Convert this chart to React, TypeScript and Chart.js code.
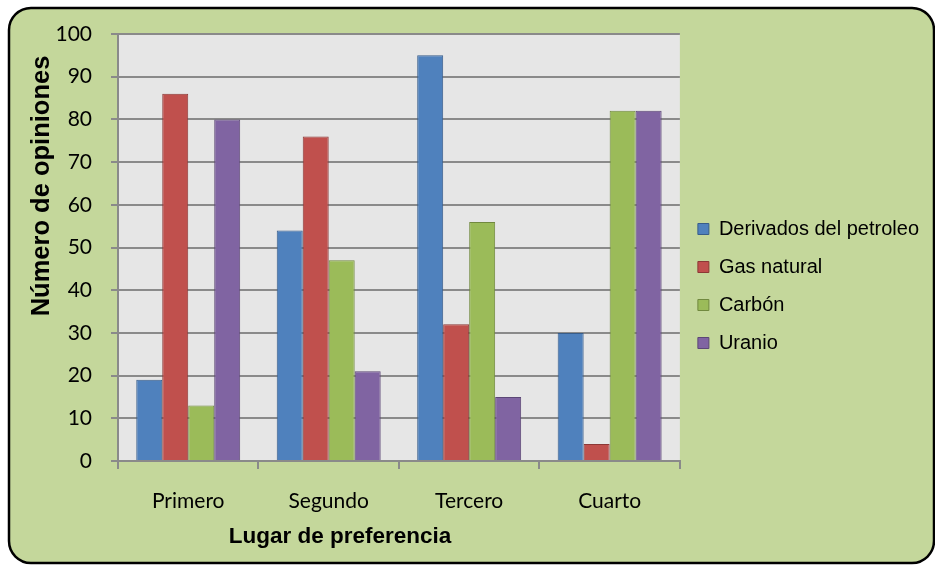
import React, { useEffect, useRef } from "react";
import { Chart, registerables } from "chart.js";

Chart.register(...registerables);

const categories = ["Primero", "Segundo", "Tercero", "Cuarto"];
const seriesNames = ["Derivados del petroleo", "Gas natural", "Carbón", "Uranio"];
const derivados = [19, 54, 95, 30];
const gasNatural = [86, 76, 32, 4];
const carbon = [13, 47, 56, 82];
const uranio = [80, 21, 15, 82];
const yTicks = [0, 10, 20, 30, 40, 50, 60, 70, 80, 90, 100];
const xTitle = "Lugar de preferencia";
const yTitle = "Número de opiniones";

const fills = ["#4F81BD", "#C0504D", "#9BBB59", "#8064A2"];
const borders = ["#385D8A", "#8C3836", "#71893F", "#5C4776"];

const framePlugin = {
  id: "frame",
  beforeDraw(chart: any) {
    const ctx = chart.ctx;
    const { left, top, right, bottom } = chart.chartArea;
    ctx.save();
    const x = 9, y = 8, w = 925, h = 555, r = 22;
    ctx.beginPath();
    ctx.moveTo(x + r, y);
    ctx.lineTo(x + w - r, y);
    ctx.arcTo(x + w, y, x + w, y + r, r);
    ctx.lineTo(x + w, y + h - r);
    ctx.arcTo(x + w, y + h, x + w - r, y + h, r);
    ctx.lineTo(x + r, y + h);
    ctx.arcTo(x, y + h, x, y + h - r, r);
    ctx.lineTo(x, y + r);
    ctx.arcTo(x, y, x + r, y, r);
    ctx.closePath();
    ctx.fillStyle = "#C4D79B";
    ctx.fill();
    ctx.lineWidth = 2.5;
    ctx.strokeStyle = "#000000";
    ctx.stroke();
    ctx.fillStyle = "#E6E6E6";
    ctx.fillRect(left, top, right - left, bottom - top);
    ctx.restore();
  },
  afterDraw(chart: any) {
    const ctx = chart.ctx;
    ctx.save();
    ctx.fillStyle = "#000000";
    ctx.textAlign = "center";
    ctx.textBaseline = "middle";
    ctx.font = "bold 22.5px 'Liberation Sans', Arial, sans-serif";
    ctx.fillText(xTitle, 340, 537);
    ctx.translate(42, 186);
    ctx.rotate(-Math.PI / 2);
    ctx.font = "bold 25.5px 'Liberation Sans', Arial, sans-serif";
    ctx.fillText(yTitle, 0, 0);
    ctx.restore();
  },
};

export default function App() {
  const ref = useRef<HTMLCanvasElement | null>(null);
  useEffect(() => {
    if (!ref.current) return;
    const values = [derivados, gasNatural, carbon, uranio];
    const chart = new Chart(ref.current, {
      type: "bar",
      data: {
        labels: categories,
        datasets: seriesNames.map((name, i) => ({
          label: name,
          data: values[i],
          backgroundColor: fills[i],
          borderColor: borders[i],
          borderWidth: 1,
          categoryPercentage: 0.74,
          barPercentage: 1.0,
        })),
      },
      options: {
        responsive: false,
        animation: false,
        devicePixelRatio: 1,
        layout: { padding: { top: 34, left: 0, right: 6, bottom: 27 } },
        plugins: {
          tooltip: { enabled: false },
          title: { display: false },
          legend: {
            position: "right",
            align: "center",
            maxHeight: 506,
            maxWidth: 320,
            labels: {
              boxWidth: 11,
              boxHeight: 11,
              padding: 18,
              color: "#000000",
              font: { family: "'Liberation Sans', Arial, sans-serif", size: 20 },
            },
          },
        },
        scales: {
          x: {
            grid: {
              offset: true,
              drawOnChartArea: false,
              drawTicks: true,
              tickLength: 8,
              color: "#8A8A8A",
              lineWidth: 2,
            },
            border: { display: true, color: "#8A8A8A", width: 2 },
            ticks: {
              color: "#000000",
              padding: 20,
              font: { family: "Lato, 'Open Sans', sans-serif", size: 21 },
            },
            afterFit: (scale: any) => {
              scale.height = 77;
            },
          },
          y: {
            min: 0,
            max: 100,
            afterBuildTicks: (scale: any) => {
              scale.ticks = yTicks.map((v) => ({ value: v }));
            },
            grid: {
              drawOnChartArea: true,
              drawTicks: true,
              tickLength: 7,
              color: "#8A8A8A",
              lineWidth: 2,
            },
            border: { display: true, color: "#8A8A8A", width: 2 },
            ticks: {
              color: "#000000",
              padding: 19,
              font: { family: "Lato, 'Open Sans', sans-serif", size: 21 },
            },
            afterFit: (scale: any) => {
              scale.width = 118;
            },
          },
        },
      },
      plugins: [framePlugin],
    });
    return () => chart.destroy();
  }, []);
  return (
    <div style={{ position: "fixed", left: 0, top: 0, width: 935, height: 565, background: "#FFFFFF" }}>
      <canvas ref={ref} width={935} height={565} style={{ display: "block", width: 935, height: 565 }} />
    </div>
  );
}
